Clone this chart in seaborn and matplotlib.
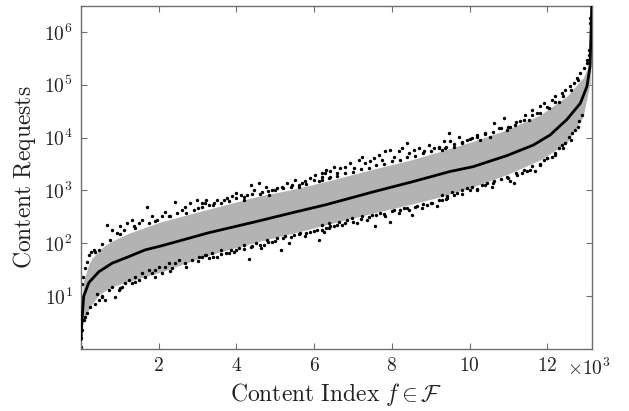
import matplotlib
matplotlib.use("Agg")
import matplotlib.pyplot as plt
import seaborn as sns
import numpy as np
import pandas as pd
from matplotlib.ticker import FixedLocator, FuncFormatter, NullLocator

# ---------------- data ----------------
line_idx = [1, 10, 44, 70, 200, 460, 800, 1230, 1650, 2080, 2510, 3280, 4500, 5500,
            6300, 7500, 8500, 9500, 10090, 10960, 11640, 12070, 12500, 12850, 13020,
            13100, 13145]
line_val = [1.5, 2.3, 5.5, 10, 18, 29, 42, 56, 75, 90, 110, 158, 257, 389,
            537, 933, 1445, 2290, 2820, 4570, 7240, 11200, 21900, 44700, 93300,
            224000, 3.5e6]

band_idx = [1, 26, 70, 200, 280, 460, 630, 800, 1230, 1650, 2070, 3200, 4500, 5500,
            6300, 7500, 8500, 9250, 10090, 10960, 11820, 12500, 12920, 13100, 13145]
band_hi = [3.2, 10, 20, 40, 52, 72, 93, 110, 155, 200, 257, 427, 759, 1070,
           1480, 2510, 3800, 5500, 8510, 14100, 26900, 60300, 135000, 263000, 3.2e6]
band_lo = [1.0, 2.6, 3.5, 5.5, 7.1, 10.5, 12.9, 15.1, 19, 23.4, 28.8, 57.5, 105, 158,
           224, 372, 550, 759, 1175, 2000, 3800, 7940, 25100, 107000, 3.2e6]

# scattered requests above the band
up_x = [27, 44, 95, 155, 198, 267, 327, 455, 670, 755, 798, 927, 1012, 1098, 1184,
        1312, 1355, 1484, 1569, 1698, 1741, 1826, 1955, 2083, 2169, 2255, 2426, 2469,
        2598, 2683, 2812, 2897, 2983, 3112, 3198,
        3120, 3206, 3291, 3420, 3506, 3677, 3763, 3891, 3977, 4105, 4191, 4277, 4363,
        4448, 4577, 4662, 4748, 4834, 4920, 5048, 5177, 5305, 5434, 5519, 5605, 5691,
        5776, 5905, 6034, 6119, 6205, 6291, 6376,
        6206, 6292, 6420, 6506, 6592, 6677, 6806, 6934, 7020, 7149, 7234, 7320, 7449,
        7534, 7663, 7748, 7834, 7963, 8048, 8177, 8263, 8391, 8434, 8563, 8691, 8820,
        8949, 9077, 9206, 9334, 9463,
        9291, 9377, 9505, 9591, 9719, 9805, 9934, 10062, 10191, 10276, 10405, 10534,
        10619, 10748, 10876, 10962, 11048, 11176, 11305, 11433, 11519, 11605, 11733,
        11819, 11905, 12033, 12119, 12205, 12290, 12376, 12462, 12590, 12676, 12762,
        12847, 12933, 13019, 13019, 13062, 13070, 13087, 13105]
up_y = [17, 23, 34, 45, 60, 69, 74, 74, 224, 115, 178, 155, 209, 178, 240,
        275, 209, 240, 275, 490, 240, 324, 275, 324, 398, 324, 617, 372,
        427, 490, 575, 427, 661, 490, 575,
        574, 661, 537, 575, 661, 661, 708, 776, 891, 832, 661, 832, 1290,
        1023, 1380, 955, 1175, 832, 1023, 1096, 1175, 1380, 1290, 1585, 1175, 1380,
        1479, 1698, 1995, 1479, 1820, 2138, 1698,
        2130, 2450, 2290, 2820, 2130, 2630, 2820, 3310, 2630, 3800, 4370, 3310, 3550,
        4070, 4680, 3800, 5500, 5890, 4370, 5500, 6310, 7940, 5130, 5890, 6310, 5500,
        7240, 6310, 6760, 8510, 12300,
        5890, 6310, 8510, 6760, 10500, 7940, 9120, 9770, 11200, 9120, 12000, 10500,
        18600, 15100, 23400, 14100, 16200, 17400, 20400, 26900, 21900, 33900, 28800,
        38900, 44700, 36300, 52500, 60300, 47900, 69200, 81300, 93300, 107000, 135000,
        166000, 209000, 257000, 295000, 457000, 372000, 1.5e6, 1.8e6]

# dense row of requests hugging the upper band edge
edge_up_x = [350, 550, 1000, 1400, 1900, 2300, 2700, 3000, 3400, 3600, 3800, 4000,
             4200, 4400, 4600, 4800, 5000, 5200, 5400, 5600, 5800, 6000, 6200, 6400,
             6600, 6800, 7000, 7200, 7400, 7600, 7800, 8000, 8200, 8400, 8600, 8800,
             9000, 9200, 9400, 9600, 9800, 10000, 10200, 10400, 10600, 10800, 11000,
             11200, 11400, 11600, 11800, 12000, 12200, 12400, 12600, 12800]
edge_up_y = [69, 95, 148, 195, 263, 331, 380, 468, 525, 589, 631, 724,
             741, 851, 871, 977, 1000, 1122, 1148, 1288, 1349, 1549, 1585, 1778,
             1905, 2188, 2239, 2570, 2692, 3020, 3162, 3631, 3802, 4266, 4467, 5012,
             5495, 6310, 6607, 7586, 8128, 9550, 10230, 11750, 12880, 15140, 16220,
             19500, 21880, 26300, 29500, 38000, 46800, 61700, 81300, 123000]

# scattered requests below the band
lo_x = [5, 10, 27, 70, 112, 155, 241, 412, 455, 541, 627, 712, 798, 884, 969, 1055,
        1141, 1227, 1312, 1398, 1484, 1569, 1655, 1741, 1826, 1912, 1998, 2083, 2169,
        2255, 2341, 2426, 2512, 2683, 2855, 3026, 3198,
        3120, 3206, 3291, 3377, 3506, 3591, 3720, 3848, 3934, 4063, 4191, 4320, 4363,
        4491, 4620, 4705, 4791, 4920, 5048, 5134, 5262, 5348, 5477, 5648, 5776, 5905,
        6077, 6119, 6248, 6376,
        6206, 6292, 6377, 6506, 6634, 6720, 6849, 6977, 7106, 7234, 7363, 7491, 7577,
        7706, 7834, 7963, 8048, 8177, 8306, 8434, 8520, 8648, 8777, 8906, 9034, 9163,
        9291, 9420,
        9291, 9419, 9548, 9677, 9805, 9934, 10062, 10191, 10319, 10448, 10576, 10619,
        10962, 11048, 11133, 11219, 11348, 11476, 11562, 11690, 11819, 11905, 11990,
        12119, 12205, 12290, 12376, 12462, 12547, 12633, 12719, 12805, 12890]
lo_y = [1.1, 1.6, 2.3, 3.5, 4.1, 4.7, 6.3, 11.2, 8.5, 9.8, 8.5, 13.2, 15.1, 9.8, 13.2,
        15.1, 17.4, 20.4, 17.4, 23.4, 20.4, 26.9, 23.4, 31.6, 26.9, 31.6, 36.3, 26.9,
        36.3, 41.7, 33.9, 41.7, 47.9, 41.7, 47.9, 56.2, 60.3,
        56, 60, 52, 65, 56, 76, 65, 76, 69, 81, 93, 50, 87,
        100, 81, 93, 115, 107, 126, 76, 135, 100, 145, 155, 135, 166,
        178, 115, 166, 195,
        224, 195, 240, 209, 257, 224, 275, 302, 240, 324, 275, 347, 209,
        372, 324, 257, 427, 372, 457, 427, 347, 501, 457, 537, 575, 501,
        661, 708,
        832, 776, 955, 891, 1023, 1096, 1175, 1023, 1290, 1380, 1175, 1479,
        1820, 1479, 1380, 1995, 2138, 2291, 2455, 2291, 3090, 3800, 4070,
        4370, 4680, 6310, 7240, 7940, 10500, 12000, 14100, 20400, 26900]

# dense row of requests hugging the lower band edge
edge_lo_x = [350, 550, 1000, 1400, 1900, 2300, 2700, 3000, 3400, 3600, 3800, 4000,
             4200, 4400, 4600, 4800, 5000, 5200, 5400, 5600, 5800, 6000, 6200, 6400,
             6600, 6800, 7000, 7200, 7400, 7600, 7800, 8000, 8200, 8400, 8600, 8800,
             9000, 9200, 9400, 9600, 9800, 10000, 10200, 10400, 10600, 10800, 11000,
             11200, 11400, 11600, 11800, 12000, 12200, 12400, 12600, 12800]
edge_lo_y = [7.2, 10.2, 14.5, 18.6, 22.9, 29.5, 36.3, 45.7, 55, 61.7, 64.6, 74.1,
             79.4, 89.1, 93.3, 105, 112, 126, 129, 148, 158, 174, 182, 209,
             219, 245, 257, 288, 309, 347, 355, 407, 427, 468, 490, 562,
             589, 661, 692, 813, 871, 1000, 1072, 1259, 1413, 1622, 1738,
             2138, 2399, 2884, 3162, 4074, 5012, 6310, 8913, 15850]

x_ticks = [2000, 4000, 6000, 8000, 10000, 12000]
x_tick_labels = ["2", "4", "6", "8", "10", "12"]
y_ticks = [1e1, 1e2, 1e3, 1e4, 1e5, 1e6]
y_tick_labels = [r"$10^{1}$", r"$10^{2}$", r"$10^{3}$", r"$10^{4}$", r"$10^{5}$", r"$10^{6}$"]

# ---------------- styling ----------------
sns.set_style("ticks")
plt.rcParams["mathtext.fontset"] = "cm"
plt.rcParams["font.family"] = ["DejaVu Serif"]

fig = plt.figure(figsize=(6.29, 4.11), dpi=100)
ax = fig.add_axes([0.1288, 0.1509, 0.9412 - 0.1288, 0.9854 - 0.1509])

ax.fill_between(band_idx, band_lo, band_hi, color="#b3b3b3", linewidth=0, zorder=1)

dots = pd.DataFrame({"x": up_x + edge_up_x + lo_x + edge_lo_x,
                     "y": up_y + edge_up_y + lo_y + edge_lo_y})
sns.scatterplot(data=dots, x="x", y="y", ax=ax, color="black", s=6,
                linewidth=0, zorder=2, legend=False)

med = pd.DataFrame({"x": line_idx, "y": line_val})
sns.lineplot(data=med, x="x", y="y", ax=ax, color="black", linewidth=2.0,
             zorder=3, sort=False)

ax.set_yscale("log")
ax.set_xlim(0, 13150)
ax.set_ylim(1, 3.1e6)

ax.xaxis.set_major_locator(FixedLocator(x_ticks))
ax.xaxis.set_major_formatter(FuncFormatter(
    lambda v, p: "$%s$" % x_tick_labels[x_ticks.index(int(round(v)))] if int(round(v)) in x_ticks else ""))
ax.yaxis.set_major_locator(FixedLocator(y_ticks))
ax.yaxis.set_major_formatter(FuncFormatter(
    lambda v, p: y_tick_labels[int(round(np.log10(v))) - 1]))
ax.yaxis.set_minor_locator(NullLocator())
ax.xaxis.set_minor_locator(NullLocator())

spine_col = "#6e6e6e"
for s in ax.spines.values():
    s.set_visible(True)
    s.set_color(spine_col)
    s.set_linewidth(1.0)

ax.tick_params(axis="both", which="major", direction="in", length=4, width=0.8,
               color=spine_col, top=True, right=True, labelsize=14,
               labelcolor="#222222", pad=6)

ax.set_xlabel(r"$\mathrm{Content\ Index}\ f \in \mathcal{F}$", fontsize=17,
              color="#222222", labelpad=4)
ax.set_ylabel(r"$\mathrm{Content\ Requests}$", fontsize=17, color="#222222",
              labelpad=4)

ax.text(0.951, -0.026, r"$\times 10^{3}$", transform=ax.transAxes, fontsize=14,
        color="#222222", ha="left", va="top")

fig.savefig("out.png", dpi=100)
